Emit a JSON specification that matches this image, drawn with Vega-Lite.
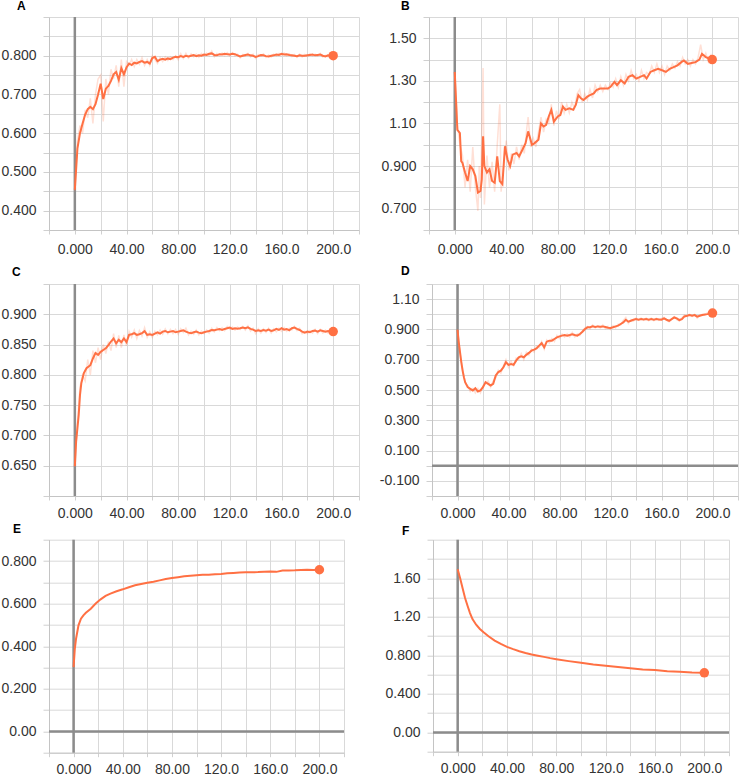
{
  "$schema": "https://vega.github.io/schema/vega-lite/v6.json",
  "background": "white",
  "padding": {"left": 0, "top": 0, "right": 0, "bottom": 0},
  "spacing": 9,
  "datasets": {
    "a": [{"s":0,"v":0.454},{"s":2,"v":0.56},{"s":4,"v":0.6},{"s":6,"v":0.625},{"s":8,"v":0.648},{"s":10,"v":0.662},{"s":12,"v":0.668},{"s":14,"v":0.662},{"s":16,"v":0.675},{"s":18,"v":0.7},{"s":20,"v":0.728},{"s":22,"v":0.688},{"s":24,"v":0.715},{"s":26,"v":0.722},{"s":28,"v":0.735},{"s":30,"v":0.752},{"s":32,"v":0.758},{"s":34,"v":0.738},{"s":36,"v":0.768},{"s":38,"v":0.752},{"s":40,"v":0.77},{"s":42,"v":0.78},{"s":44,"v":0.776},{"s":46,"v":0.782},{"s":48,"v":0.78},{"s":50,"v":0.784},{"s":52,"v":0.786},{"s":54,"v":0.782},{"s":56,"v":0.784},{"s":58,"v":0.78},{"s":60,"v":0.794},{"s":62,"v":0.797},{"s":64,"v":0.786},{"s":66,"v":0.79},{"s":68,"v":0.792},{"s":70,"v":0.79},{"s":72,"v":0.793},{"s":74,"v":0.791},{"s":76,"v":0.795},{"s":78,"v":0.797},{"s":80,"v":0.796},{"s":82,"v":0.799},{"s":84,"v":0.797},{"s":86,"v":0.8},{"s":88,"v":0.798},{"s":90,"v":0.8},{"s":92,"v":0.802},{"s":94,"v":0.799},{"s":96,"v":0.801},{"s":98,"v":0.8},{"s":100,"v":0.803},{"s":102,"v":0.802},{"s":104,"v":0.805},{"s":106,"v":0.806},{"s":108,"v":0.802},{"s":110,"v":0.801},{"s":112,"v":0.804},{"s":114,"v":0.803},{"s":116,"v":0.805},{"s":118,"v":0.804},{"s":120,"v":0.803},{"s":122,"v":0.805},{"s":124,"v":0.804},{"s":126,"v":0.801},{"s":128,"v":0.798},{"s":130,"v":0.8},{"s":132,"v":0.802},{"s":134,"v":0.803},{"s":136,"v":0.801},{"s":138,"v":0.8},{"s":140,"v":0.797},{"s":142,"v":0.799},{"s":144,"v":0.802},{"s":146,"v":0.801},{"s":148,"v":0.799},{"s":150,"v":0.798},{"s":152,"v":0.8},{"s":154,"v":0.801},{"s":156,"v":0.803},{"s":158,"v":0.802},{"s":160,"v":0.805},{"s":162,"v":0.803},{"s":164,"v":0.804},{"s":166,"v":0.802},{"s":168,"v":0.801},{"s":170,"v":0.8},{"s":172,"v":0.799},{"s":174,"v":0.801},{"s":176,"v":0.8},{"s":178,"v":0.8},{"s":180,"v":0.801},{"s":182,"v":0.802},{"s":184,"v":0.803},{"s":186,"v":0.801},{"s":188,"v":0.802},{"s":190,"v":0.803},{"s":192,"v":0.8},{"s":194,"v":0.798},{"s":196,"v":0.801},{"s":198,"v":0.8},{"s":200,"v":0.8}],
    "ar": [{"s":0,"v":0.45},{"s":2,"v":0.58},{"s":4,"v":0.62},{"s":6,"v":0.6},{"s":8,"v":0.66},{"s":10,"v":0.64},{"s":12,"v":0.69},{"s":14,"v":0.625},{"s":16,"v":0.7},{"s":18,"v":0.74},{"s":20,"v":0.75},{"s":22,"v":0.63},{"s":24,"v":0.74},{"s":26,"v":0.7},{"s":28,"v":0.765},{"s":30,"v":0.74},{"s":32,"v":0.775},{"s":34,"v":0.72},{"s":36,"v":0.79},{"s":38,"v":0.72},{"s":40,"v":0.785},{"s":42,"v":0.775},{"s":44,"v":0.79},{"s":46,"v":0.772},{"s":48,"v":0.79},{"s":50,"v":0.778},{"s":52,"v":0.795},{"s":54,"v":0.775},{"s":56,"v":0.79},{"s":58,"v":0.775},{"s":60,"v":0.8},{"s":62,"v":0.79},{"s":64,"v":0.78},{"s":66,"v":0.795},{"s":68,"v":0.785},{"s":70,"v":0.797},{"s":72,"v":0.788},{"s":74,"v":0.797},{"s":76,"v":0.79},{"s":78,"v":0.8},{"s":80,"v":0.79},{"s":82,"v":0.805},{"s":84,"v":0.793},{"s":86,"v":0.806},{"s":88,"v":0.794},{"s":90,"v":0.805},{"s":92,"v":0.797},{"s":94,"v":0.804},{"s":96,"v":0.796},{"s":98,"v":0.806},{"s":100,"v":0.799},{"s":102,"v":0.807},{"s":104,"v":0.8},{"s":106,"v":0.812},{"s":108,"v":0.797},{"s":110,"v":0.806},{"s":112,"v":0.8},{"s":114,"v":0.807},{"s":116,"v":0.8},{"s":118,"v":0.808},{"s":120,"v":0.8},{"s":122,"v":0.808},{"s":124,"v":0.8},{"s":126,"v":0.804},{"s":128,"v":0.795},{"s":130,"v":0.803},{"s":132,"v":0.799},{"s":134,"v":0.806},{"s":136,"v":0.797},{"s":138,"v":0.804},{"s":140,"v":0.793},{"s":142,"v":0.803},{"s":144,"v":0.799},{"s":146,"v":0.805},{"s":148,"v":0.796},{"s":150,"v":0.802},{"s":152,"v":0.797},{"s":154,"v":0.804},{"s":156,"v":0.8},{"s":158,"v":0.806},{"s":160,"v":0.801},{"s":162,"v":0.807},{"s":164,"v":0.8},{"s":166,"v":0.805},{"s":168,"v":0.798},{"s":170,"v":0.803},{"s":172,"v":0.796},{"s":174,"v":0.804},{"s":176,"v":0.797},{"s":178,"v":0.803},{"s":180,"v":0.798},{"s":182,"v":0.805},{"s":184,"v":0.8},{"s":186,"v":0.804},{"s":188,"v":0.799},{"s":190,"v":0.806},{"s":192,"v":0.797},{"s":194,"v":0.801},{"s":196,"v":0.797},{"s":198,"v":0.803},{"s":200,"v":0.8}],
    "b": [{"s":0,"v":1.342},{"s":1,"v":1.21},{"s":2,"v":1.07},{"s":3,"v":1.063},{"s":4,"v":1.055},{"s":5,"v":0.923},{"s":6,"v":0.915},{"s":8,"v":0.87},{"s":10,"v":0.83},{"s":12,"v":0.9},{"s":14,"v":0.885},{"s":16,"v":0.853},{"s":18,"v":0.776},{"s":20,"v":0.784},{"s":21,"v":0.838},{"s":22,"v":1.04},{"s":23,"v":0.9},{"s":25,"v":0.87},{"s":27,"v":0.885},{"s":29,"v":0.83},{"s":31,"v":0.822},{"s":33,"v":0.946},{"s":35,"v":0.83},{"s":37,"v":0.815},{"s":39,"v":0.993},{"s":41,"v":0.931},{"s":43,"v":0.9},{"s":45,"v":0.954},{"s":48,"v":0.962},{"s":50,"v":0.946},{"s":52,"v":0.97},{"s":55,"v":1.008},{"s":57,"v":1.063},{"s":60,"v":1.0},{"s":62,"v":1.008},{"s":65,"v":1.024},{"s":67,"v":1.1},{"s":69,"v":1.086},{"s":71,"v":1.094},{"s":73,"v":1.133},{"s":75,"v":1.164},{"s":77,"v":1.109},{"s":80,"v":1.133},{"s":82,"v":1.14},{"s":84,"v":1.179},{"s":86,"v":1.164},{"s":89,"v":1.171},{"s":92,"v":1.164},{"s":94,"v":1.187},{"s":96,"v":1.233},{"s":98,"v":1.218},{"s":100,"v":1.21},{"s":103,"v":1.226},{"s":105,"v":1.233},{"s":108,"v":1.241},{"s":110,"v":1.257},{"s":113,"v":1.264},{"s":116,"v":1.264},{"s":119,"v":1.264},{"s":121,"v":1.272},{"s":124,"v":1.295},{"s":126,"v":1.28},{"s":129,"v":1.303},{"s":132,"v":1.288},{"s":135,"v":1.319},{"s":138,"v":1.327},{"s":141,"v":1.311},{"s":144,"v":1.319},{"s":147,"v":1.327},{"s":149,"v":1.311},{"s":152,"v":1.342},{"s":155,"v":1.35},{"s":158,"v":1.357},{"s":161,"v":1.35},{"s":164,"v":1.342},{"s":167,"v":1.357},{"s":170,"v":1.365},{"s":173,"v":1.373},{"s":176,"v":1.388},{"s":178,"v":1.396},{"s":181,"v":1.38},{"s":184,"v":1.384},{"s":187,"v":1.388},{"s":190,"v":1.4},{"s":192,"v":1.427},{"s":195,"v":1.412},{"s":198,"v":1.404},{"s":200,"v":1.4}],
    "br": [{"s":0,"v":1.34},{"s":2,"v":1.1},{"s":4,"v":1.0},{"s":6,"v":0.95},{"s":8,"v":0.8},{"s":10,"v":0.93},{"s":12,"v":0.78},{"s":14,"v":0.99},{"s":16,"v":0.8},{"s":18,"v":0.69},{"s":19,"v":0.9},{"s":20,"v":0.75},{"s":22,"v":1.36},{"s":23,"v":0.72},{"s":25,"v":0.95},{"s":27,"v":0.8},{"s":29,"v":0.92},{"s":31,"v":0.78},{"s":33,"v":1.0},{"s":35,"v":1.19},{"s":36,"v":0.78},{"s":38,"v":0.9},{"s":40,"v":1.02},{"s":42,"v":0.88},{"s":44,"v":0.96},{"s":46,"v":0.91},{"s":48,"v":0.99},{"s":50,"v":0.93},{"s":52,"v":1.0},{"s":54,"v":0.96},{"s":56,"v":1.08},{"s":57,"v":1.13},{"s":59,"v":0.99},{"s":61,"v":1.03},{"s":63,"v":0.99},{"s":65,"v":1.06},{"s":67,"v":1.13},{"s":69,"v":1.06},{"s":71,"v":1.12},{"s":73,"v":1.1},{"s":75,"v":1.19},{"s":77,"v":1.09},{"s":79,"v":1.16},{"s":81,"v":1.12},{"s":83,"v":1.2},{"s":85,"v":1.15},{"s":87,"v":1.19},{"s":89,"v":1.15},{"s":91,"v":1.2},{"s":93,"v":1.17},{"s":95,"v":1.24},{"s":97,"v":1.26},{"s":99,"v":1.2},{"s":101,"v":1.24},{"s":103,"v":1.21},{"s":105,"v":1.26},{"s":107,"v":1.22},{"s":109,"v":1.28},{"s":111,"v":1.25},{"s":113,"v":1.28},{"s":115,"v":1.25},{"s":117,"v":1.28},{"s":119,"v":1.26},{"s":121,"v":1.29},{"s":123,"v":1.27},{"s":125,"v":1.31},{"s":127,"v":1.27},{"s":129,"v":1.32},{"s":131,"v":1.28},{"s":133,"v":1.33},{"s":135,"v":1.3},{"s":137,"v":1.35},{"s":139,"v":1.31},{"s":141,"v":1.33},{"s":143,"v":1.3},{"s":145,"v":1.35},{"s":147,"v":1.31},{"s":149,"v":1.34},{"s":151,"v":1.33},{"s":153,"v":1.37},{"s":155,"v":1.34},{"s":157,"v":1.38},{"s":159,"v":1.34},{"s":161,"v":1.37},{"s":163,"v":1.33},{"s":165,"v":1.37},{"s":167,"v":1.35},{"s":169,"v":1.38},{"s":171,"v":1.36},{"s":173,"v":1.39},{"s":175,"v":1.37},{"s":177,"v":1.41},{"s":179,"v":1.38},{"s":181,"v":1.4},{"s":183,"v":1.37},{"s":185,"v":1.4},{"s":187,"v":1.38},{"s":189,"v":1.41},{"s":191,"v":1.47},{"s":193,"v":1.4},{"s":195,"v":1.43},{"s":197,"v":1.39},{"s":199,"v":1.42},{"s":200,"v":1.4}],
    "c": [{"s":0,"v":0.649},{"s":1,"v":0.69},{"s":2,"v":0.712},{"s":3,"v":0.734},{"s":4,"v":0.767},{"s":5,"v":0.786},{"s":7,"v":0.803},{"s":9,"v":0.811},{"s":12,"v":0.816},{"s":14,"v":0.827},{"s":16,"v":0.836},{"s":18,"v":0.833},{"s":20,"v":0.838},{"s":22,"v":0.841},{"s":24,"v":0.844},{"s":26,"v":0.849},{"s":28,"v":0.855},{"s":30,"v":0.86},{"s":32,"v":0.852},{"s":34,"v":0.858},{"s":36,"v":0.854},{"s":38,"v":0.86},{"s":40,"v":0.854},{"s":42,"v":0.866},{"s":44,"v":0.867},{"s":46,"v":0.869},{"s":48,"v":0.866},{"s":50,"v":0.867},{"s":52,"v":0.869},{"s":54,"v":0.872},{"s":56,"v":0.866},{"s":58,"v":0.867},{"s":60,"v":0.866},{"s":62,"v":0.868},{"s":64,"v":0.8703},{"s":66,"v":0.868},{"s":68,"v":0.8714},{"s":70,"v":0.8725},{"s":72,"v":0.8703},{"s":74,"v":0.8714},{"s":76,"v":0.8725},{"s":78,"v":0.8703},{"s":80,"v":0.8714},{"s":82,"v":0.8725},{"s":84,"v":0.8736},{"s":86,"v":0.8714},{"s":88,"v":0.8697},{"s":90,"v":0.8686},{"s":92,"v":0.8703},{"s":94,"v":0.8714},{"s":96,"v":0.8697},{"s":98,"v":0.8686},{"s":100,"v":0.8703},{"s":102,"v":0.8714},{"s":104,"v":0.8725},{"s":106,"v":0.8741},{"s":108,"v":0.8736},{"s":110,"v":0.8747},{"s":112,"v":0.8758},{"s":114,"v":0.8741},{"s":116,"v":0.8758},{"s":118,"v":0.8769},{"s":120,"v":0.878},{"s":122,"v":0.8758},{"s":124,"v":0.8769},{"s":126,"v":0.8763},{"s":128,"v":0.8769},{"s":130,"v":0.878},{"s":132,"v":0.8769},{"s":134,"v":0.8785},{"s":136,"v":0.8758},{"s":138,"v":0.8747},{"s":140,"v":0.8725},{"s":142,"v":0.8736},{"s":144,"v":0.8725},{"s":146,"v":0.8741},{"s":148,"v":0.873},{"s":150,"v":0.8747},{"s":152,"v":0.8725},{"s":154,"v":0.8736},{"s":156,"v":0.8758},{"s":158,"v":0.8741},{"s":160,"v":0.8769},{"s":162,"v":0.8747},{"s":164,"v":0.8758},{"s":166,"v":0.8736},{"s":168,"v":0.8769},{"s":170,"v":0.878},{"s":172,"v":0.8758},{"s":174,"v":0.8741},{"s":176,"v":0.8714},{"s":178,"v":0.8697},{"s":180,"v":0.8714},{"s":182,"v":0.8703},{"s":184,"v":0.8725},{"s":186,"v":0.873},{"s":188,"v":0.8714},{"s":190,"v":0.8736},{"s":192,"v":0.8725},{"s":194,"v":0.8714},{"s":196,"v":0.8725},{"s":198,"v":0.8714},{"s":200,"v":0.8714}],
    "cr": [{"s":0,"v":0.65},{"s":2,"v":0.72},{"s":4,"v":0.78},{"s":6,"v":0.8},{"s":8,"v":0.79},{"s":10,"v":0.825},{"s":12,"v":0.8},{"s":14,"v":0.84},{"s":16,"v":0.82},{"s":18,"v":0.845},{"s":20,"v":0.825},{"s":22,"v":0.85},{"s":24,"v":0.835},{"s":26,"v":0.855},{"s":28,"v":0.84},{"s":30,"v":0.868},{"s":32,"v":0.845},{"s":34,"v":0.865},{"s":36,"v":0.845},{"s":38,"v":0.866},{"s":40,"v":0.848},{"s":42,"v":0.872},{"s":44,"v":0.862},{"s":46,"v":0.874},{"s":48,"v":0.86},{"s":50,"v":0.873},{"s":52,"v":0.864},{"s":54,"v":0.878},{"s":56,"v":0.862},{"s":58,"v":0.871},{"s":60,"v":0.862},{"s":62,"v":0.872},{"s":64,"v":0.866},{"s":66,"v":0.874},{"s":68,"v":0.867},{"s":70,"v":0.876},{"s":72,"v":0.868},{"s":74,"v":0.875},{"s":76,"v":0.868},{"s":78,"v":0.875},{"s":80,"v":0.867},{"s":82,"v":0.876},{"s":84,"v":0.87},{"s":86,"v":0.877},{"s":88,"v":0.866},{"s":90,"v":0.872},{"s":92,"v":0.867},{"s":94,"v":0.874},{"s":96,"v":0.866},{"s":98,"v":0.872},{"s":100,"v":0.868},{"s":102,"v":0.874},{"s":104,"v":0.869},{"s":106,"v":0.877},{"s":108,"v":0.871},{"s":110,"v":0.878},{"s":112,"v":0.873},{"s":114,"v":0.878},{"s":116,"v":0.873},{"s":118,"v":0.88},{"s":120,"v":0.875},{"s":122,"v":0.879},{"s":124,"v":0.874},{"s":126,"v":0.879},{"s":128,"v":0.875},{"s":130,"v":0.88},{"s":132,"v":0.874},{"s":134,"v":0.881},{"s":136,"v":0.872},{"s":138,"v":0.877},{"s":140,"v":0.868},{"s":142,"v":0.876},{"s":144,"v":0.869},{"s":146,"v":0.876},{"s":148,"v":0.87},{"s":150,"v":0.877},{"s":152,"v":0.869},{"s":154,"v":0.876},{"s":156,"v":0.871},{"s":158,"v":0.877},{"s":160,"v":0.872},{"s":162,"v":0.878},{"s":164,"v":0.872},{"s":166,"v":0.877},{"s":168,"v":0.874},{"s":170,"v":0.88},{"s":172,"v":0.873},{"s":174,"v":0.877},{"s":176,"v":0.868},{"s":178,"v":0.872},{"s":180,"v":0.868},{"s":182,"v":0.873},{"s":184,"v":0.869},{"s":186,"v":0.875},{"s":188,"v":0.868},{"s":190,"v":0.875},{"s":192,"v":0.869},{"s":194,"v":0.874},{"s":196,"v":0.869},{"s":198,"v":0.874},{"s":200,"v":0.871}],
    "d": [{"s":0,"v":0.898},{"s":1,"v":0.815},{"s":2,"v":0.749},{"s":3,"v":0.683},{"s":4,"v":0.628},{"s":5,"v":0.585},{"s":6,"v":0.552},{"s":8,"v":0.519},{"s":10,"v":0.508},{"s":12,"v":0.497},{"s":14,"v":0.512},{"s":16,"v":0.49},{"s":18,"v":0.497},{"s":20,"v":0.519},{"s":22,"v":0.552},{"s":24,"v":0.541},{"s":26,"v":0.53},{"s":28,"v":0.541},{"s":30,"v":0.596},{"s":32,"v":0.618},{"s":34,"v":0.628},{"s":36,"v":0.65},{"s":38,"v":0.683},{"s":40,"v":0.666},{"s":42,"v":0.672},{"s":44,"v":0.666},{"s":46,"v":0.694},{"s":48,"v":0.716},{"s":50,"v":0.723},{"s":52,"v":0.716},{"s":54,"v":0.732},{"s":56,"v":0.745},{"s":58,"v":0.76},{"s":60,"v":0.767},{"s":62,"v":0.775},{"s":64,"v":0.793},{"s":66,"v":0.81},{"s":68,"v":0.782},{"s":70,"v":0.819},{"s":72,"v":0.826},{"s":74,"v":0.826},{"s":76,"v":0.837},{"s":78,"v":0.848},{"s":80,"v":0.854},{"s":82,"v":0.859},{"s":84,"v":0.863},{"s":86,"v":0.859},{"s":88,"v":0.863},{"s":90,"v":0.868},{"s":92,"v":0.863},{"s":94,"v":0.859},{"s":96,"v":0.87},{"s":98,"v":0.885},{"s":100,"v":0.903},{"s":102,"v":0.914},{"s":104,"v":0.914},{"s":106,"v":0.92},{"s":108,"v":0.916},{"s":110,"v":0.92},{"s":112,"v":0.918},{"s":114,"v":0.92},{"s":116,"v":0.916},{"s":118,"v":0.911},{"s":120,"v":0.909},{"s":122,"v":0.914},{"s":124,"v":0.92},{"s":126,"v":0.925},{"s":128,"v":0.936},{"s":130,"v":0.946},{"s":132,"v":0.964},{"s":134,"v":0.951},{"s":136,"v":0.957},{"s":138,"v":0.964},{"s":140,"v":0.968},{"s":142,"v":0.964},{"s":144,"v":0.968},{"s":146,"v":0.966},{"s":148,"v":0.968},{"s":150,"v":0.964},{"s":152,"v":0.968},{"s":154,"v":0.964},{"s":156,"v":0.968},{"s":158,"v":0.966},{"s":160,"v":0.964},{"s":162,"v":0.973},{"s":164,"v":0.964},{"s":166,"v":0.957},{"s":168,"v":0.968},{"s":170,"v":0.979},{"s":172,"v":0.973},{"s":174,"v":0.962},{"s":176,"v":0.968},{"s":178,"v":0.986},{"s":180,"v":0.99},{"s":182,"v":0.995},{"s":184,"v":0.99},{"s":186,"v":0.995},{"s":188,"v":0.984},{"s":190,"v":0.99},{"s":192,"v":0.995},{"s":194,"v":0.999},{"s":196,"v":1.001},{"s":198,"v":1.004},{"s":200,"v":1.008}],
    "dr": [{"s":0,"v":0.9},{"s":2,"v":0.74},{"s":4,"v":0.64},{"s":6,"v":0.55},{"s":8,"v":0.53},{"s":10,"v":0.49},{"s":12,"v":0.51},{"s":14,"v":0.48},{"s":16,"v":0.51},{"s":18,"v":0.48},{"s":20,"v":0.53},{"s":22,"v":0.54},{"s":24,"v":0.56},{"s":26,"v":0.52},{"s":28,"v":0.56},{"s":30,"v":0.58},{"s":32,"v":0.63},{"s":34,"v":0.61},{"s":36,"v":0.66},{"s":38,"v":0.7},{"s":40,"v":0.65},{"s":42,"v":0.69},{"s":44,"v":0.66},{"s":46,"v":0.71},{"s":48,"v":0.7},{"s":50,"v":0.74},{"s":52,"v":0.7},{"s":54,"v":0.75},{"s":56,"v":0.73},{"s":58,"v":0.77},{"s":60,"v":0.75},{"s":62,"v":0.79},{"s":64,"v":0.78},{"s":66,"v":0.82},{"s":68,"v":0.77},{"s":70,"v":0.83},{"s":72,"v":0.81},{"s":74,"v":0.84},{"s":76,"v":0.82},{"s":78,"v":0.86},{"s":80,"v":0.84},{"s":82,"v":0.87},{"s":84,"v":0.85},{"s":86,"v":0.87},{"s":88,"v":0.85},{"s":90,"v":0.88},{"s":92,"v":0.85},{"s":94,"v":0.87},{"s":96,"v":0.86},{"s":98,"v":0.89},{"s":100,"v":0.91},{"s":102,"v":0.92},{"s":104,"v":0.905},{"s":106,"v":0.93},{"s":108,"v":0.91},{"s":110,"v":0.925},{"s":112,"v":0.91},{"s":114,"v":0.93},{"s":116,"v":0.905},{"s":118,"v":0.92},{"s":120,"v":0.9},{"s":122,"v":0.925},{"s":124,"v":0.91},{"s":126,"v":0.935},{"s":128,"v":0.93},{"s":130,"v":0.96},{"s":132,"v":0.98},{"s":134,"v":0.94},{"s":136,"v":0.965},{"s":138,"v":0.955},{"s":140,"v":0.975},{"s":142,"v":0.96},{"s":144,"v":0.975},{"s":146,"v":0.96},{"s":148,"v":0.975},{"s":150,"v":0.958},{"s":152,"v":0.975},{"s":154,"v":0.958},{"s":156,"v":0.974},{"s":158,"v":0.96},{"s":160,"v":0.973},{"s":162,"v":0.98},{"s":164,"v":0.96},{"s":166,"v":0.95},{"s":168,"v":0.97},{"s":170,"v":0.985},{"s":172,"v":0.965},{"s":174,"v":0.955},{"s":176,"v":0.975},{"s":178,"v":0.995},{"s":180,"v":0.985},{"s":182,"v":1.0},{"s":184,"v":0.985},{"s":186,"v":1.0},{"s":188,"v":0.975},{"s":190,"v":0.99},{"s":192,"v":1.0},{"s":194,"v":0.995},{"s":196,"v":1.01},{"s":198,"v":1.0},{"s":200,"v":1.01}],
    "e": [{"s":0,"v":0.302},{"s":1,"v":0.388},{"s":2,"v":0.435},{"s":4,"v":0.498},{"s":6,"v":0.529},{"s":8,"v":0.545},{"s":10,"v":0.557},{"s":14,"v":0.576},{"s":18,"v":0.6},{"s":22,"v":0.62},{"s":26,"v":0.636},{"s":30,"v":0.647},{"s":35,"v":0.658},{"s":40,"v":0.667},{"s":45,"v":0.677},{"s":50,"v":0.686},{"s":55,"v":0.692},{"s":60,"v":0.698},{"s":65,"v":0.703},{"s":70,"v":0.709},{"s":75,"v":0.715},{"s":80,"v":0.72},{"s":85,"v":0.724},{"s":90,"v":0.728},{"s":95,"v":0.731},{"s":100,"v":0.733},{"s":105,"v":0.735},{"s":110,"v":0.736},{"s":115,"v":0.738},{"s":120,"v":0.739},{"s":125,"v":0.742},{"s":130,"v":0.744},{"s":135,"v":0.746},{"s":140,"v":0.747},{"s":145,"v":0.747},{"s":150,"v":0.748},{"s":155,"v":0.75},{"s":160,"v":0.751},{"s":165,"v":0.749},{"s":170,"v":0.755},{"s":175,"v":0.755},{"s":180,"v":0.756},{"s":185,"v":0.758},{"s":190,"v":0.759},{"s":195,"v":0.758},{"s":200,"v":0.759}],
    "f": [{"s":0,"v":1.693},{"s":2,"v":1.6},{"s":4,"v":1.497},{"s":6,"v":1.394},{"s":8,"v":1.314},{"s":10,"v":1.239},{"s":12,"v":1.177},{"s":15,"v":1.118},{"s":18,"v":1.074},{"s":21,"v":1.039},{"s":25,"v":0.998},{"s":30,"v":0.953},{"s":35,"v":0.919},{"s":40,"v":0.888},{"s":45,"v":0.864},{"s":50,"v":0.843},{"s":55,"v":0.825},{"s":60,"v":0.809},{"s":65,"v":0.796},{"s":70,"v":0.784},{"s":75,"v":0.771},{"s":80,"v":0.76},{"s":90,"v":0.74},{"s":100,"v":0.722},{"s":110,"v":0.705},{"s":120,"v":0.691},{"s":130,"v":0.678},{"s":140,"v":0.667},{"s":150,"v":0.654},{"s":160,"v":0.647},{"s":170,"v":0.636},{"s":180,"v":0.63},{"s":190,"v":0.623},{"s":200,"v":0.619}]
  },
  "vconcat": [
    {"hconcat": [
      {"width": 310, "height": 213, "title": {"text": "A", "dx": -32, "offset": 2.5},
       "layer": [
        {"data": {"values": [{"z": 0}]}, "mark": {"type": "rule", "color": "#8c8c8c", "strokeWidth": 2.5},
         "encoding": {"x": {"field": "z", "type": "quantitative", "title": null, "scale": {"domain": [-20, 220]},
           "axis": {"tickCount": 100, "values": [-20,0,20,40,60,80,100,120,140,160,180,200,220], "labelExpr": "datum.value == 0 ? '0.000' : indexof([40,80,120,160,200], datum.value) >= 0 ? format(datum.value, '.4r') : ''"}}}},
        {"data": {"name": "ar"}, "mark": {"type": "line", "color": "#ff7043", "opacity": 0.22, "strokeWidth": 1.5},
         "encoding": {"x": {"field": "s", "type": "quantitative", "title": null, "scale": {"domain": [-20, 220]}},
           "y": {"field": "v", "type": "quantitative", "title": null, "scale": {"domain": [0.35, 0.9]},
             "axis": {"tickCount": 100, "values": [0.35,0.4,0.45,0.5,0.55,0.6,0.65,0.7,0.75,0.8,0.85,0.9], "labelFontSize": {"condition": {"test": "indexof([40,50,60,70,80], round(datum.value*100)) >= 0", "value": 14}, "value": 0}, "labelExpr": "indexof([40,50,60,70,80], round(datum.value*100)) >= 0 ? format(datum.value, '.3r') : ''"}}}},
        {"data": {"name": "a"}, "mark": {"type": "line", "color": "#ff7043", "strokeWidth": 2},
         "encoding": {"x": {"field": "s", "type": "quantitative", "title": null, "scale": {"domain": [-20, 220]}}, "y": {"field": "v", "type": "quantitative", "title": null, "scale": {"domain": [0.35, 0.9]}}}},
        {"data": {"name": "a"}, "transform": [{"filter": "datum.s == 200"}], "mark": {"type": "circle", "color": "#ff7043", "opacity": 1, "size": 90},
         "encoding": {"x": {"field": "s", "type": "quantitative", "title": null, "scale": {"domain": [-20, 220]}}, "y": {"field": "v", "type": "quantitative", "title": null, "scale": {"domain": [0.35, 0.9]}}}}
       ]},
      {"width": 309, "height": 213, "title": {"text": "B", "dx": -28, "offset": 2.5},
       "layer": [
        {"data": {"values": [{"z": 0}]}, "mark": {"type": "rule", "color": "#8c8c8c", "strokeWidth": 2.5},
         "encoding": {"x": {"field": "z", "type": "quantitative", "title": null, "scale": {"domain": [-20, 220]},
           "axis": {"tickCount": 100, "values": [-20,0,20,40,60,80,100,120,140,160,180,200,220], "labelExpr": "datum.value == 0 ? '0.000' : indexof([40,80,120,160,200], datum.value) >= 0 ? format(datum.value, '.4r') : ''"}}}},
        {"data": {"name": "br"}, "mark": {"type": "line", "color": "#ff7043", "opacity": 0.22, "strokeWidth": 1.5},
         "encoding": {"x": {"field": "s", "type": "quantitative", "title": null, "scale": {"domain": [-20, 220]}},
           "y": {"field": "v", "type": "quantitative", "title": null, "scale": {"domain": [0.6, 1.6]},
             "axis": {"tickCount": 100, "values": [0.6,0.7,0.8,0.9,1.0,1.1,1.2,1.3,1.4,1.5,1.6], "labelFontSize": {"condition": {"test": "indexof([70,90,110,130,150], round(datum.value*100)) >= 0", "value": 14}, "value": 0}, "labelExpr": "indexof([70,90,110,130,150], round(datum.value*100)) >= 0 ? format(datum.value, '.3r') : ''"}}}},
        {"data": {"name": "b"}, "mark": {"type": "line", "color": "#ff7043", "strokeWidth": 2},
         "encoding": {"x": {"field": "s", "type": "quantitative", "title": null, "scale": {"domain": [-20, 220]}}, "y": {"field": "v", "type": "quantitative", "title": null, "scale": {"domain": [0.6, 1.6]}}}},
        {"data": {"name": "b"}, "transform": [{"filter": "datum.s == 200"}], "mark": {"type": "circle", "color": "#ff7043", "opacity": 1, "size": 90},
         "encoding": {"x": {"field": "s", "type": "quantitative", "title": null, "scale": {"domain": [-20, 220]}}, "y": {"field": "v", "type": "quantitative", "title": null, "scale": {"domain": [0.6, 1.6]}}}}
       ]}
    ], "spacing": 20},
    {"vconcat": [
    {"hconcat": [
      {"width": 310, "height": 212, "title": {"text": "C", "dx": -37, "offset": 3.5},
       "layer": [
        {"data": {"values": [{"z": 0}]}, "mark": {"type": "rule", "color": "#8c8c8c", "strokeWidth": 2.5},
         "encoding": {"x": {"field": "z", "type": "quantitative", "title": null, "scale": {"domain": [-20, 220]},
           "axis": {"tickCount": 100, "labelPadding": 6, "values": [-20,0,20,40,60,80,100,120,140,160,180,200,220], "labelExpr": "datum.value == 0 ? '0.000' : indexof([40,80,120,160,200], datum.value) >= 0 ? format(datum.value, '.4r') : ''"}}}},
        {"data": {"name": "cr"}, "mark": {"type": "line", "color": "#ff7043", "opacity": 0.22, "strokeWidth": 1.5},
         "encoding": {"x": {"field": "s", "type": "quantitative", "title": null, "scale": {"domain": [-20, 220]}},
           "y": {"field": "v", "type": "quantitative", "title": null, "scale": {"domain": [0.6, 0.95]},
             "axis": {"tickCount": 100, "values": [0.6,0.65,0.7,0.75,0.8,0.85,0.9,0.95], "labelFontSize": {"condition": {"test": "indexof([65,70,75,80,85,90], round(datum.value*100)) >= 0", "value": 14}, "value": 0}, "labelExpr": "indexof([65,70,75,80,85,90], round(datum.value*100)) >= 0 ? format(datum.value, '.3r') : ''"}}}},
        {"data": {"name": "c"}, "mark": {"type": "line", "color": "#ff7043", "strokeWidth": 2},
         "encoding": {"x": {"field": "s", "type": "quantitative", "title": null, "scale": {"domain": [-20, 220]}}, "y": {"field": "v", "type": "quantitative", "title": null, "scale": {"domain": [0.6, 0.95]}}}},
        {"data": {"name": "c"}, "transform": [{"filter": "datum.s == 200"}], "mark": {"type": "circle", "color": "#ff7043", "opacity": 1, "size": 90},
         "encoding": {"x": {"field": "s", "type": "quantitative", "title": null, "scale": {"domain": [-20, 220]}}, "y": {"field": "v", "type": "quantitative", "title": null, "scale": {"domain": [0.6, 0.95]}}}}
       ]},
      {"width": 306, "height": 212, "title": {"text": "D", "dx": -31, "offset": 4.5},
       "layer": [
        {"data": {"values": [{"z": 0}]}, "mark": {"type": "rule", "color": "#8c8c8c", "strokeWidth": 2.5},
         "encoding": {"x": {"field": "z", "type": "quantitative", "title": null, "scale": {"domain": [-20, 220]},
           "axis": {"tickCount": 100, "labelPadding": 6, "values": [-20,0,20,40,60,80,100,120,140,160,180,200,220], "labelExpr": "datum.value == 0 ? '0.000' : indexof([40,80,120,160,200], datum.value) >= 0 ? format(datum.value, '.4r') : ''"}}}},
        {"data": {"values": [{"z": 0}]}, "mark": {"type": "rule", "color": "#8c8c8c", "strokeWidth": 2.5},
         "encoding": {"y": {"field": "z", "type": "quantitative", "title": null, "scale": {"domain": [-0.2, 1.2]}}}},
        {"data": {"name": "dr"}, "mark": {"type": "line", "color": "#ff7043", "opacity": 0.22, "strokeWidth": 1.5},
         "encoding": {"x": {"field": "s", "type": "quantitative", "title": null, "scale": {"domain": [-20, 220]}},
           "y": {"field": "v", "type": "quantitative", "title": null, "scale": {"domain": [-0.2, 1.2]},
             "axis": {"tickCount": 100, "values": [-0.2,-0.1,0,0.1,0.2,0.3,0.4,0.5,0.6,0.7,0.8,0.9,1.0,1.1,1.2], "labelFontSize": {"condition": {"test": "indexof([-10,10,30,50,70,90,110], round(datum.value*100)) >= 0", "value": 14}, "value": 0}, "labelExpr": "indexof([-10,10,30,50,70,90,110], round(datum.value*100)) >= 0 ? replace(format(datum.value, '.3r'), '\u2212', '-') : ''"}}}},
        {"data": {"name": "d"}, "mark": {"type": "line", "color": "#ff7043", "strokeWidth": 2},
         "encoding": {"x": {"field": "s", "type": "quantitative", "title": null, "scale": {"domain": [-20, 220]}}, "y": {"field": "v", "type": "quantitative", "title": null, "scale": {"domain": [-0.2, 1.2]}}}},
        {"data": {"name": "d"}, "transform": [{"filter": "datum.s == 200"}], "mark": {"type": "circle", "color": "#ff7043", "opacity": 1, "size": 90},
         "encoding": {"x": {"field": "s", "type": "quantitative", "title": null, "scale": {"domain": [-20, 220]}}, "y": {"field": "v", "type": "quantitative", "title": null, "scale": {"domain": [-0.2, 1.2]}}}}
       ]}
    ], "spacing": 19},
    {"hconcat": [
      {"width": 295, "height": 213, "title": {"text": "E", "dx": -36, "offset": 2.5},
       "layer": [
        {"data": {"values": [{"z": 0}]}, "mark": {"type": "rule", "color": "#8c8c8c", "strokeWidth": 2.5},
         "encoding": {"x": {"field": "z", "type": "quantitative", "title": null, "scale": {"domain": [-20, 220]},
           "axis": {"tickCount": 100, "labelPadding": 6, "values": [-20,0,20,40,60,80,100,120,140,160,180,200,220], "labelExpr": "datum.value == 0 ? '0.000' : indexof([40,80,120,160,200], datum.value) >= 0 ? format(datum.value, '.4r') : ''"}}}},
        {"data": {"values": [{"z": 0}]}, "mark": {"type": "rule", "color": "#8c8c8c", "strokeWidth": 2.5},
         "encoding": {"y": {"field": "z", "type": "quantitative", "title": null, "scale": {"domain": [-0.1, 0.9]}}}},
        {"data": {"name": "e"}, "mark": {"type": "line", "color": "#ff7043", "strokeWidth": 2},
         "encoding": {"x": {"field": "s", "type": "quantitative", "title": null, "scale": {"domain": [-20, 220]}},
           "y": {"field": "v", "type": "quantitative", "title": null, "scale": {"domain": [-0.1, 0.9]},
             "axis": {"tickCount": 100, "values": [-0.1,0,0.1,0.2,0.3,0.4,0.5,0.6,0.7,0.8,0.9], "labelFontSize": {"condition": {"test": "indexof([0,20,40,60,80], round(datum.value*100)) >= 0", "value": 14}, "value": 0}, "labelExpr": "round(datum.value*100) == 0 ? '0.00' : indexof([20,40,60,80], round(datum.value*100)) >= 0 ? format(datum.value, '.3r') : ''"}}}},
        {"data": {"name": "e"}, "transform": [{"filter": "datum.s == 200"}], "mark": {"type": "circle", "color": "#ff7043", "opacity": 1, "size": 90},
         "encoding": {"x": {"field": "s", "type": "quantitative", "title": null, "scale": {"domain": [-20, 220]}}, "y": {"field": "v", "type": "quantitative", "title": null, "scale": {"domain": [-0.1, 0.9]}}}}
       ]},
      {"width": 296, "height": 212, "title": {"text": "F", "dx": -31, "offset": 0},
       "layer": [
        {"data": {"values": [{"z": 0}]}, "mark": {"type": "rule", "color": "#8c8c8c", "strokeWidth": 2.5},
         "encoding": {"x": {"field": "z", "type": "quantitative", "title": null, "scale": {"domain": [-20, 220]},
           "axis": {"tickCount": 100, "labelPadding": 6, "values": [-20,0,20,40,60,80,100,120,140,160,180,200,220], "labelExpr": "datum.value == 0 ? '0.000' : indexof([40,80,120,160,200], datum.value) >= 0 ? format(datum.value, '.4r') : ''"}}}},
        {"data": {"values": [{"z": 0}]}, "mark": {"type": "rule", "color": "#8c8c8c", "strokeWidth": 2.5},
         "encoding": {"y": {"field": "z", "type": "quantitative", "title": null, "scale": {"domain": [-0.2, 2.0]}}}},
        {"data": {"name": "f"}, "mark": {"type": "line", "color": "#ff7043", "strokeWidth": 2},
         "encoding": {"x": {"field": "s", "type": "quantitative", "title": null, "scale": {"domain": [-20, 220]}},
           "y": {"field": "v", "type": "quantitative", "title": null, "scale": {"domain": [-0.2, 2.0]},
             "axis": {"tickCount": 100, "values": [-0.2,0,0.2,0.4,0.6,0.8,1.0,1.2,1.4,1.6,1.8,2.0], "labelFontSize": {"condition": {"test": "indexof([0,40,80,120,160], round(datum.value*100)) >= 0", "value": 14}, "value": 0}, "labelExpr": "round(datum.value*100) == 0 ? '0.00' : indexof([40,80,120,160], round(datum.value*100)) >= 0 ? format(datum.value, '.3r') : ''"}}}},
        {"data": {"name": "f"}, "transform": [{"filter": "datum.s == 200"}], "mark": {"type": "circle", "color": "#ff7043", "opacity": 1, "size": 90},
         "encoding": {"x": {"field": "s", "type": "quantitative", "title": null, "scale": {"domain": [-20, 220]}}, "y": {"field": "v", "type": "quantitative", "title": null, "scale": {"domain": [-0.2, 2.0]}}}}
       ]}
    ], "spacing": 38}
    ], "spacing": 2.7}
  ],
  "config": {
    "font": "Liberation Sans",
    "view": {"stroke": null},
    "axis": {"grid": true, "tickCount": 100, "gridColor": "#d9d9d9", "gridWidth": 1, "domainColor": "#c4c4c4", "domainWidth": 1, "tickColor": "#d0d0d0", "labelFont": "Liberation Sans", "labelFontSize": 14, "labelColor": "#333333", "labelFlush": false, "labelOverlap": false, "labelBound": false},
    "axisX": {"tickSize": 4, "labelPadding": 8},
    "axisY": {"tickSize": 6, "labelPadding": 7},
    "title": {"anchor": "start", "frame": "group", "font": "Liberation Sans", "fontSize": 12, "fontWeight": "bold", "color": "#000000", "offset": 1}
  }
}
